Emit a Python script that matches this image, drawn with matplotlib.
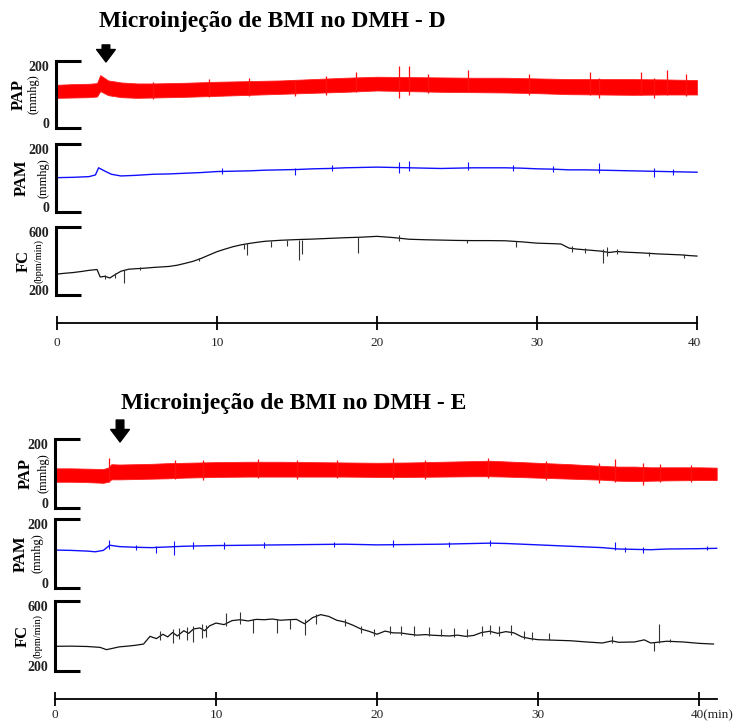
import numpy as np
import matplotlib
matplotlib.use("Agg")
from matplotlib import pyplot as plt
from matplotlib.transforms import Bbox

plt.rcParams['font.family'] = ['Liberation Serif', 'DejaVu Serif']

W, H = 738, 722

# ---------------- data: panel D ----------------
title_d = "Microinjeção de BMI no DMH - D"
inj_d = 3.06  # min

pap_d_t = [0, 1, 2, 2.5, 2.7, 3.2, 4, 5, 6, 8, 10, 12, 14, 16, 18, 20, 22, 24, 26, 28, 30, 32, 34, 36, 38, 40]
pap_d_top = [129, 131, 132, 134, 158, 142, 136, 133, 133, 135, 138, 140, 142, 146, 150, 153, 152, 151, 150, 150,
             148, 146, 146, 146, 145, 143]
pap_d_bot = [90, 91, 92, 94, 110, 98, 92, 90, 91, 93, 96, 99, 102, 105, 108, 112, 110, 108, 107, 106, 104, 101,
             100, 99, 100, 100]
pap_d_spikes = [(6.0, 88, 138), (9.5, 92, 145), (12.0, 95, 150), (14.9, 95, 142), (16.8, 100, 155),
                (18.7, 108, 168), (21.4, 90, 186), (22.0, 100, 185), (23.2, 104, 160), (25.7, 108, 173),
                (29.5, 100, 160), (33.3, 100, 168), (33.9, 90, 150), (36.5, 98, 168), (37.3, 90, 150),
                (38.1, 98, 173), (39.3, 96, 160)]

pam_d_t = [0, 1, 2, 2.4, 2.6, 3.0, 3.4, 4, 5, 6, 7, 8, 9, 10, 11, 12, 13, 14, 15, 16, 17, 18, 19, 20, 21, 22, 23,
           24, 25, 26, 27, 28, 29, 30, 31, 32, 33, 34, 35, 36, 37, 38, 39, 40]
pam_d = [101, 102, 104, 109, 130, 120, 111, 106, 108, 111, 112, 114, 116, 119, 120, 121, 123, 124, 125, 127, 128,
         130, 131, 132, 131, 130, 129, 128, 129, 130, 130, 130, 129, 127, 126, 124, 124, 123, 122, 121, 120, 119,
         118, 117]
pam_d_spikes = [(10.3, 112, 130), (14.9, 109, 128), (17.2, 120, 138), (21.4, 115, 147), (22.0, 122, 151),
                (25.7, 124, 148), (28.5, 122, 138), (31.0, 118, 136), (33.9, 116, 144), (37.3, 104, 128),
                (38.5, 110, 126)]

fc_d_t = [0, 0.5, 1, 1.5, 2, 2.5, 2.7, 3.0, 3.3, 3.6, 4.0, 4.5, 5, 5.5, 6, 6.5, 7, 7.5, 8, 8.5, 9, 9.5, 10, 10.5,
          11, 11.5, 12, 12.5, 13, 14, 15, 16, 17, 18, 19, 20, 21, 22, 23, 24, 25, 26, 27, 28, 29, 30, 31, 31.5, 32,
          32.5, 33, 33.5, 34, 34.5, 35, 35.5, 36, 36.5, 37, 37.5, 38, 38.5, 39, 39.5, 40]
fc_d = [323, 328, 332, 338, 345, 350, 306, 310, 300, 318, 340, 352, 355, 358, 362, 365, 368, 375, 386, 398, 415, 435,
        455, 470, 484, 495, 503, 510, 516, 522, 526, 529, 533, 537, 540, 545, 538, 528, 525, 523, 521, 520, 520, 519,
        513, 505, 502, 500, 476, 470, 466, 462, 458, 450, 456, 452, 450, 448, 445, 442, 440, 438, 436, 432, 429]
fc_d_spikes = [(3.0, 295, 315), (3.6, 300, 330), (4.2, 272, 345), (5.2, 345, 362), (8.9, 398, 416),
               (11.7, 470, 498), (11.9, 435, 504), (13.4, 484, 519), (14.4, 488, 522), (15.1, 406, 526),
               (15.3, 440, 526), (18.8, 445, 539), (21.4, 520, 555), (25.6, 505, 521), (28.7, 481, 519),
               (32.2, 455, 490), (33.0, 450, 478), (34.1, 386, 470), (34.4, 430, 480), (35.0, 440, 468),
               (37.0, 430, 452), (39.2, 420, 440)]

# ---------------- data: panel E ----------------
title_e = "Microinjeção de BMI no DMH - E"
inj_e = 4.04  # min

pap_e_t = [0, 1, 2, 3, 3.3, 3.5, 4, 5, 6, 7, 8, 10, 12, 14, 16, 18, 20, 22, 24, 26, 27, 28, 30, 32, 34, 35, 36, 37,
           38, 40, 41.1]
pap_e_top = [115, 115, 114, 113, 117, 127, 126, 127, 128, 130, 131, 133, 134, 134, 133, 132, 131, 132, 134, 136, 137,
             135, 131, 127, 122, 120, 120, 118, 118, 118, 117]
pap_e_bot = [76, 76, 75, 73, 76, 83, 83, 84, 85, 86, 88, 90, 91, 91, 91, 91, 90, 90, 91, 92, 92, 91, 88, 85, 82, 79,
             78, 79, 80, 81, 81]
pap_e_spikes = [(3.35, 75, 145), (7.45, 84, 139), (9.2, 80, 138), (12.6, 86, 141), (15.0, 84, 140),
                (17.5, 88, 138), (21.0, 84, 145), (23.0, 84, 140), (26.9, 86, 144), (30.5, 80, 136),
                (33.8, 72, 130), (34.8, 74, 142), (36.5, 67, 130), (37.6, 74, 128), (39.5, 76, 126)]

pam_e_t = [0, 1, 2, 2.5, 3, 3.4, 4, 5, 6, 7, 8, 9, 10, 12, 14, 16, 18, 20, 22, 24, 26, 27, 28, 30, 32, 34, 35, 36,
           37, 38, 40, 41.1]
pam_e = [110, 109, 107, 105, 109, 124, 120, 118, 117, 119, 121, 122, 123, 124, 125, 126, 127, 125, 126, 127, 129,
         130, 129, 125, 121, 117, 113, 112, 111, 113, 114, 115]
pam_e_spikes = [(3.35, 112, 139), (5.0, 110, 126), (6.3, 101, 122), (7.4, 96, 136), (8.6, 112, 132),
                (10.5, 114, 132), (13.0, 116, 134), (17.3, 118, 134), (21.0, 120, 140), (24.5, 120, 134),
                (27.0, 122, 138), (34.8, 110, 134), (35.4, 104, 120), (36.5, 101, 118), (40.5, 110, 121)]

fc_e_t = [0, 1, 2, 2.8, 3.2, 3.6, 4, 4.5, 5, 5.5, 5.9, 6.3, 6.7, 7.0, 7.3, 7.6, 8.0, 8.3, 8.6, 9.0, 9.3, 9.6, 10,
          10.5, 11, 11.5, 12, 12.5, 13, 13.5, 14, 14.5, 15, 15.5, 16, 16.5, 17, 17.5, 18, 18.5, 19, 19.5, 20, 20.5,
          21, 21.5, 22, 22.5, 23, 23.5, 24, 24.5, 25, 25.5, 26, 26.5, 27, 27.5, 28, 28.5, 29, 29.5, 30, 31, 32, 33,
          34, 34.6, 35, 36, 36.6, 37.0, 37.5, 38, 39, 40, 40.9]
fc_e = [341, 342, 340, 335, 322, 330, 338, 342, 347, 354, 398, 385, 410, 395, 420, 400, 430, 415, 440, 446, 430, 458,
        474, 465, 488, 493, 486, 495, 493, 497, 490, 493, 495, 470, 505, 522, 512, 490, 480, 462, 440, 427, 410, 428,
        418, 417, 410, 405, 408, 404, 402, 400, 405, 398, 403, 420, 427, 415, 425, 418, 395, 385, 379, 376, 373, 366,
        360, 372, 364, 366, 378, 360, 365, 370, 366, 358, 354]
fc_e_spikes = [(6.5, 380, 430), (7.3, 360, 440), (7.7, 385, 445), (8.2, 375, 450), (8.6, 365, 455), (9.1, 390, 470),
               (9.4, 395, 465), (10.6, 455, 531), (11.5, 470, 537), (12.3, 417, 500), (13.8, 417, 500),
               (14.6, 440, 498), (15.5, 408, 497), (16.2, 470, 525), (18.0, 455, 495), (19.0, 420, 460),
               (19.8, 400, 440), (20.8, 410, 455), (21.5, 405, 460), (22.3, 400, 455), (23.2, 400, 450),
               (24.0, 398, 440), (24.8, 395, 445), (25.6, 392, 440), (26.5, 400, 455), (27.0, 410, 465),
               (27.6, 400, 460), (28.3, 405, 462), (29.1, 385, 430), (29.6, 380, 425), (30.7, 375, 418),
               (34.6, 360, 400), (37.2, 312, 368), (37.5, 360, 470), (38.2, 365, 385)]

time_ticks = [0, 10, 20, 30, 40]
time_labels = ["0", "10", "20", "30", "40(min)"]


def px_axes(fig, left, top, right, bottom):
    return fig.add_axes([left / W, 1 - bottom / H, (right - left) / W, (bottom - top) / H])


def style_trace(ax, xlim, ylim, label, unit, label_dx, unit_dx, unit_size=9):
    ax.set_xlim(xlim)
    ax.set_ylim(ylim)
    ax.set_yticks(ylim)
    ax.set_xticks([])
    for s in ["top", "right", "bottom"]:
        ax.spines[s].set_visible(False)
    ax.spines["left"].set_linewidth(2.2)
    ax.tick_params(axis="y", direction="in", length=18, width=2.2, pad=5, labelsize=10, labelcolor="#222222")
    low, high = ax.get_yticklabels()
    for lbl in (low, high):
        lbl.set_fontweight("bold")
    # top value sits just under its tick, bottom value just above its tick
    high.set_verticalalignment("top")
    low.set_verticalalignment("baseline")
    ax.patch.set_alpha(0)
    ax.annotate(label, xy=(0, 0.5), xycoords="axes fraction", xytext=(label_dx, 0), textcoords="offset pixels",
                rotation=90, ha="center", va="center", fontsize=12, fontweight="bold")
    ax.annotate(unit, xy=(0, 0.5), xycoords="axes fraction", xytext=(unit_dx, 0), textcoords="offset pixels",
                rotation=90, ha="center", va="center", fontsize=unit_size)


def draw_spikes(ax, spikes, color, lw=0.9):
    ax.vlines([s[0] for s in spikes], [s[1] for s in spikes], [s[2] for s in spikes], color=color, lw=lw)


def time_axis(fig, left, right, y, xlim, pad, clip_right=None):
    ax = px_axes(fig, left, y - 10, right, y)
    ax.set_xlim(xlim)
    ax.set_yticks([])
    for s in ["top", "right", "left"]:
        ax.spines[s].set_visible(False)
    ax.spines["bottom"].set_linewidth(1.3)
    ax.patch.set_alpha(0)
    ax.set_xticks(time_ticks)
    ax.set_xticklabels(time_labels[:-1] + [""])
    ax.tick_params(axis="x", direction="inout", length=9.5, width=1.3, pad=pad, labelsize=9.5,
                   labelcolor="#222222")
    off = -(6.5 + pad * 100 / 72)
    last = ax.annotate(time_labels[-1], xy=(time_ticks[-1], 0), xycoords=("data", "axes fraction"),
                       xytext=(-9, off), textcoords="offset pixels", ha="left", va="top", fontsize=9.5,
                       color="#222222")
    if clip_right is not None:
        last.set_clip_on(True)
        last.set_clip_box(Bbox.from_extents(0, 0, clip_right, H))
    return ax


def injection_arrow(ax, t, tail, tip):
    ax.annotate("", xy=(t, tip), xycoords=("data", "axes fraction"), xytext=(t, tail),
                textcoords=("data", "axes fraction"),
                arrowprops=dict(facecolor="black", edgecolor="black", width=5.5, headwidth=13.5, headlength=9,
                                shrink=0), annotation_clip=False)


fig = plt.figure(figsize=(W / 100, H / 100), dpi=100)

# ---------------- panel D ----------------
xlim_d = (-0.0625, 40.0625)
ax = px_axes(fig, 56, 61, 698, 128)
ax.fill_between(pap_d_t, pap_d_bot, pap_d_top, color="#ff0000", lw=0.6, edgecolor="#ff2020")
draw_spikes(ax, pap_d_spikes, "#ff1010")
style_trace(ax, xlim_d, (0, 200), "PAP", "(mmhg)", -37, -23)
injection_arrow(ax, inj_d, 1.24, 0.985)

ax = px_axes(fig, 56, 144, 698, 212)
ax.plot(pam_d_t, pam_d, color="#1010ff", lw=1.0)
draw_spikes(ax, pam_d_spikes, "#1010ff", lw=0.8)
style_trace(ax, xlim_d, (0, 200), "PAM", "(mmhg)", -34, -13)

ax = px_axes(fig, 56, 227, 698, 295)
ax.plot(fc_d_t, fc_d, color="#111111", lw=0.9)
draw_spikes(ax, fc_d_spikes, "#333333", lw=0.8)
style_trace(ax, xlim_d, (200, 600), "FC", "(bpm/min)", -32, -17, unit_size=7.5)

time_axis(fig, 57, 697, 323, (0, 40), 5.5, clip_right=701)
fig.text(272 / W, 1 - 22 / H, title_d, ha="center", va="center", fontsize=17, fontweight="bold")

# ---------------- panel E ----------------
xlim_e = (0, 41.18)
ax = px_axes(fig, 55, 439, 718, 508)
ax.fill_between(pap_e_t, pap_e_bot, pap_e_top, color="#ff0000", lw=0.6, edgecolor="#ff2020")
draw_spikes(ax, pap_e_spikes, "#ff1010")
style_trace(ax, xlim_e, (0, 200), "PAP", "(mmhg)", -29, -12)
injection_arrow(ax, inj_e, 1.275, 0.957)

ax = px_axes(fig, 55, 519, 718, 588)
ax.plot(pam_e_t, pam_e, color="#1010ff", lw=1.0)
draw_spikes(ax, pam_e_spikes, "#1010ff", lw=0.8)
style_trace(ax, xlim_e, (0, 200), "PAM", "(mmhg)", -34, -18)

ax = px_axes(fig, 55, 601, 718, 671)
ax.plot(fc_e_t, fc_e, color="#111111", lw=0.9)
draw_spikes(ax, fc_e_spikes, "#333333", lw=0.8)
style_trace(ax, xlim_e, (200, 600), "FC", "(bpm/min)", -32, -17, unit_size=7.5)

time_axis(fig, 55, 717, 699, (0, 41.1), 2.5)
fig.text(294 / W, 1 - 403 / H, title_e, ha="center", va="center", fontsize=17, fontweight="bold")

fig.savefig("out.png", dpi=100)
